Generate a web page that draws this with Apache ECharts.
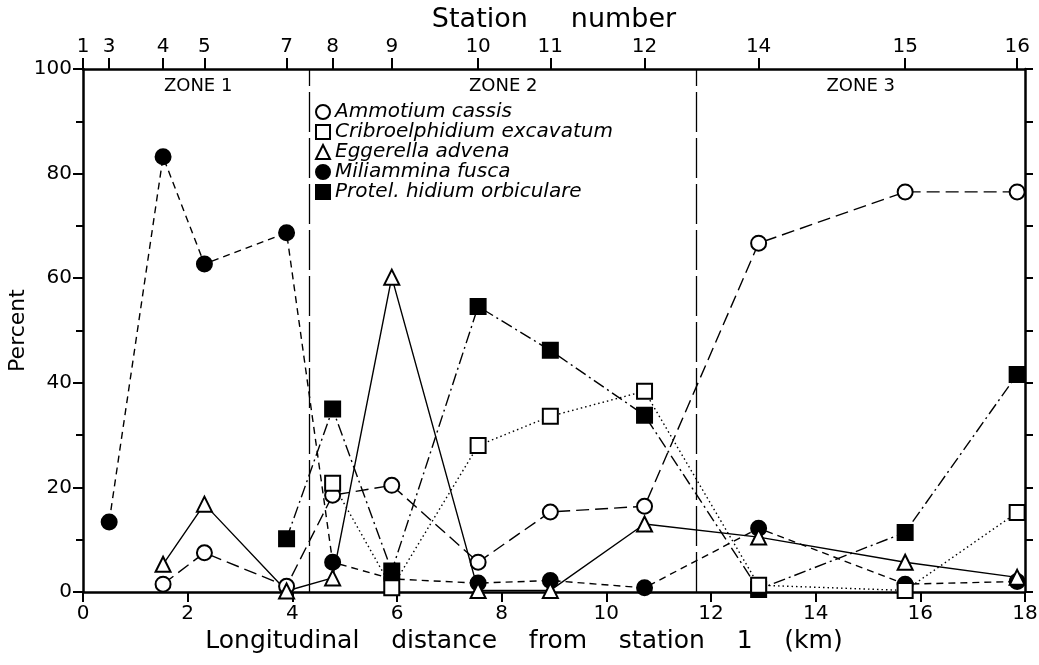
<!DOCTYPE html>
<html>
<head>
<meta charset="utf-8">
<script src="https://cdn.jsdelivr.net/npm/echarts@6/dist/echarts.min.js"></script>
<style>html,body{margin:0;padding:0;background:#fff}#c{width:1039px;height:665px}</style>
</head>
<body>
<div id="c"></div>
<script>
// Station numbers and their distance from station 1 (km)
const stations   = [1, 3, 4, 5, 7, 8, 9, 10, 11, 12, 14, 15, 16];
const stationKm  = [0, 0.5, 1.53, 2.32, 3.89, 4.77, 5.9, 7.55, 8.93, 10.73, 12.91, 15.71, 17.85];
// Percent values per station (null = not plotted)
const ammotium   = [null, null, 1.5, 7.5, 1.1, 18.5, 20.4, 5.7, 15.3, 16.4, 66.7, 76.5, 76.5];
const cribro     = [null, null, null, null, null, 20.8, 0.8, 28, 33.6, 38.4, 1.3, 0.3, 15.2];
const eggerella  = [null, null, 5.3, 16.8, 0.2, 2.7, 60.2, 0.3, 0.3, 13, 10.5, 5.7, 2.8];
const miliammina = [null, 13.4, 83.2, 62.7, 68.7, 5.7, 2.5, 1.7, 2.2, 0.8, 12.2, 1.5, 2];
const protel     = [null, null, null, null, 10.2, 35, 4, 54.6, 46.2, 33.8, 0.5, 11.4, 41.6];
// Zone boundaries (km) and zone labels
const zoneBounds = [4.33, 11.72];
const zoneLabels = ['ZONE 1', 'ZONE 2', 'ZONE 3'];
const zoneLabelKm = [2.2, 8.03, 14.86];
const names = ['Ammotium cassis', 'Cribroelphidium excavatum', 'Eggerella advena', 'Miliammina fusca', 'Protel. hidium orbiculare'];

const FONT = 'DejaVu Sans';
function pts(vals){ const r=[]; vals.forEach((v,i)=>{ if(v!==null) r.push([stationKm[i], v]); }); return r; }
function mk(name, vals, symbol, filled, lineType){
  return {
    name, type:'line', data: pts(vals), symbol, symbolSize: 15,
    xAxisIndex:0, yAxisIndex:0,
    lineStyle:{color:'#000', width:1.4, type:lineType},
    itemStyle:{color: filled?'#000':'#fff', borderColor:'#000', borderWidth:2},
    emphasis:{disabled:true}, animation:false, z: filled?3:4
  };
}
const chart = echarts.init(document.getElementById('c'));
chart.setOption({
  animation:false,
  grid:{left:83, right:14, top:69, bottom:73, containLabel:false, outerBoundsMode:'none'},
  legend:{
    orient:'vertical', left:310, top:97, itemWidth:14, itemHeight:14, itemGap:0,
    textStyle:{fontFamily:FONT, fontStyle:'italic', fontSize:20, lineHeight:17, color:'#000'},
    data:[
      {name:names[0], icon:'circle'},
      {name:names[1], icon:'rect'},
      {name:names[2], icon:'triangle'},
      {name:names[3], icon:'circle'},
      {name:names[4], icon:'rect'}
    ],
    selectedMode:false
  },
  xAxis:[
    {type:'value', position:'bottom', min:0, max:18, interval:2,
     name:'Longitudinal    distance    from    station    1    (km)', nameLocation:'middle', nameGap:37,
     nameMoveOverlap:false,
     nameTextStyle:{fontFamily:FONT, fontSize:25, color:'#000', padding:[0,60,0,0]},
     axisLine:{onZero:false, lineStyle:{color:'#000', width:2.5}},
     axisTick:{inside:false, length:10, lineStyle:{color:'#000', width:2}},
     axisLabel:{fontFamily:FONT, fontSize:20, color:'#000', margin:12},
     splitLine:{show:false}},
    {type:'value', position:'top', min:0, max:18,
     name:'Station     number', nameLocation:'middle', nameGap:36,
     nameMoveOverlap:false,
     nameTextStyle:{fontFamily:FONT, fontSize:27, color:'#000'},
     axisLine:{onZero:false, lineStyle:{color:'#000', width:2.5}},
     axisTick:{inside:false, length:11, lineStyle:{color:'#000', width:2}, customValues: stationKm},
     axisLabel:{fontFamily:FONT, fontSize:20, color:'#000', margin:12, customValues: stationKm,
       formatter:(v)=>{ let bi=0; stationKm.forEach((k,i)=>{ if(Math.abs(k-v)<Math.abs(stationKm[bi]-v)) bi=i; }); return String(stations[bi]); }},
     splitLine:{show:false}}
  ],
  yAxis:[
    {type:'value', position:'left', min:0, max:100, interval:20,
     name:'Percent', nameLocation:'middle', nameGap:54,
     nameMoveOverlap:false,
     nameTextStyle:{fontFamily:FONT, fontSize:22, color:'#000'},
     axisLine:{show:true, onZero:false, lineStyle:{color:'#000', width:2.5}},
     axisTick:{show:true, length:10, lineStyle:{color:'#000', width:2}},
     minorTick:{show:true, splitNumber:2, length:7, lineStyle:{color:'#000', width:2}},
     axisLabel:{fontFamily:FONT, fontSize:20, color:'#000', margin:11},
     splitLine:{show:false}},
    {type:'value', position:'right', min:0, max:100, interval:10,
     axisLine:{show:true, onZero:false, lineStyle:{color:'#000', width:2.5}},
     axisTick:{show:true, length:8, lineStyle:{color:'#000', width:2}},
     axisLabel:{show:false}, splitLine:{show:false}}
  ],
  series:[
    mk(names[0], ammotium, 'circle', false, [13,6]),
    mk(names[1], cribro, 'rect', false, [1.5,3]),
    mk(names[2], eggerella, 'triangle', false, 'solid'),
    mk(names[3], miliammina, 'circle', true, [7,5]),
    mk(names[4], protel, 'rect', true, [12,4,2,4]),
    {type:'scatter', data: zoneLabelKm.map((k,i)=>[k, 96.6, zoneLabels[i]]), symbolSize:0, silent:true,
     itemStyle:{opacity:1},
     label:{show:true, position:'inside', formatter:(p)=>p.data[2], fontFamily:FONT, fontSize:18, color:'#000', opacity:1},
     markLine:{silent:true, symbol:'none', label:{show:false},
       lineStyle:{color:'#000', width:1.3, type:[40,6], opacity:1},
       data: zoneBounds.map(k=>({xAxis:k}))}}
  ]
});
</script>
</body>
</html>
